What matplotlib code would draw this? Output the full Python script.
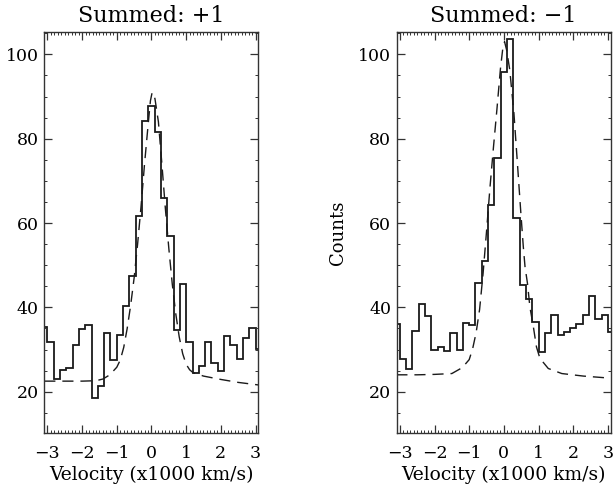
import numpy as np
import matplotlib
matplotlib.use("Agg")
import matplotlib.pyplot as plt
from matplotlib.ticker import MultipleLocator

# ---- data ----
velocity = [-3.094, -2.912, -2.730, -2.548, -2.366, -2.184, -2.002, -1.820, -1.638,
            -1.456, -1.274, -1.092, -0.910, -0.728, -0.546, -0.364, -0.182, 0.000,
            0.182, 0.364, 0.546, 0.728, 0.910, 1.092, 1.274, 1.456, 1.638, 1.820,
            2.002, 2.184, 2.366, 2.548, 2.730, 2.912, 3.094]

counts_plus = [35.4, 31.7, 22.9, 25.1, 25.5, 31.1, 34.9, 35.7, 18.4, 21.4, 33.9, 27.5,
               33.5, 40.4, 47.5, 61.6, 84.1, 87.8, 81.7, 66.0, 57.0, 34.6, 45.5, 31.7,
               24.5, 26.1, 31.8, 26.9, 24.9, 33.3, 31.0, 27.8, 32.8, 35.0, 30.1]

counts_minus = [36.0, 27.7, 25.3, 34.5, 40.9, 38.0, 29.8, 30.6, 29.6, 33.8, 29.9, 36.2,
                35.9, 45.7, 50.9, 64.2, 75.4, 95.7, 103.7, 61.1, 45.4, 42.0, 36.5, 29.3,
                33.8, 38.3, 33.5, 34.1, 35.0, 36.0, 38.1, 42.8, 37.2, 38.3, 34.2]

fit_plus_v = [-3.09, -2.5, -2.0, -1.6, -1.4, -1.2, -1.0, -0.9, -0.8, -0.7, -0.6, -0.5,
              -0.4, -0.3, -0.2, -0.1, -0.03, 0.02, 0.1, 0.2, 0.3, 0.4, 0.5, 0.6, 0.7,
              0.8, 0.9, 1.0, 1.1, 1.2, 1.5, 2.0, 2.5, 3.08]
fit_plus_c = [22.5, 22.5, 22.5, 22.6, 23.0, 24.0, 25.8, 27.5, 30.5, 35.0, 40.5, 47.0,
              55.0, 64.0, 74.0, 83.0, 89.0, 91.0, 89.5, 84.0, 74.0, 63.5, 54.0, 45.5,
              38.5, 33.0, 29.0, 26.5, 25.2, 24.5, 23.7, 22.9, 22.2, 21.6]

fit_minus_v = [-3.10, -2.5, -2.0, -1.5, -1.2, -1.0, -0.9, -0.8, -0.7, -0.6, -0.5, -0.4,
               -0.3, -0.2, -0.1, -0.03, 0.02, 0.08, 0.17, 0.29, 0.39, 0.49, 0.56, 0.61,
               0.68, 0.75, 0.85, 0.94, 1.04, 1.28, 1.67, 2.29, 3.08]
fit_minus_c = [24.0, 24.0, 24.1, 24.3, 25.7, 27.6, 30.2, 34.0, 39.5, 48.0, 58.0, 68.5,
               78.0, 87.0, 96.5, 101.5, 103.0, 101.0, 96.3, 86.0, 74.2, 62.3, 54.4, 49.6,
               45.7, 40.1, 35.4, 30.6, 27.9, 25.5, 24.3, 23.7, 23.2]

titles = ["Summed: +1", "Summed: \u22121"]
xlabel = "Velocity (x1000 km/s)"
ylabel = "Counts"
xticks = [-3, -2, -1, 0, 1, 2, 3]
yticks = [20, 40, 60, 80, 100]

plt.rcParams['font.family'] = ['DejaVu Serif']
plt.rcParams['axes.unicode_minus'] = True

fig = plt.figure(figsize=(6.13, 4.88), dpi=100)
W, H = 613, 488
positions = [(44.3, 32, 214, 401), (396.7, 32, 214, 401)]

v = np.array(velocity)
half = np.diff(v).mean() / 2
edges = np.concatenate([v - half, [v[-1] + half]])

datasets = [(counts_plus, fit_plus_v, fit_plus_c), (counts_minus, fit_minus_v, fit_minus_c)]

for i, (pos, (cnt, fv, fc)) in enumerate(zip(positions, datasets)):
    x0, y0, w, h = pos
    ax = fig.add_axes([x0 / W, 1 - (y0 + h) / H, w / W, h / H])
    ax.stairs(cnt, edges, baseline=None, color='#1a1a1a', linewidth=1.3)
    ax.plot(fv, fc, color='#1a1a1a', linewidth=1.0, linestyle=(0, (8, 5)))
    ax.set_xlim(-3.09, 3.08)
    ax.set_ylim(10.2, 105.3)
    ax.set_xticks(xticks)
    ax.set_yticks(yticks)
    ax.xaxis.set_minor_locator(MultipleLocator(0.1))
    ax.yaxis.set_minor_locator(MultipleLocator(5))
    ax.tick_params(which='both', direction='in', top=True, right=True, color='#333333')
    ax.tick_params(which='major', length=5.5, width=0.9, labelsize=12.5, pad=4)
    ax.tick_params(which='minor', length=2.5, width=0.7)
    ax.tick_params(axis='x', which='major', pad=9)
    for s in ax.spines.values():
        s.set_linewidth(1.0)
        s.set_color('#333333')
    ax.set_title(titles[i], fontsize=16, pad=7)
    ax.set_xlabel(xlabel, fontsize=13.5, labelpad=2)
    if i == 1:
        ax.set_ylabel(ylabel, fontsize=13, labelpad=8)

fig.savefig("out.png", dpi=100)
